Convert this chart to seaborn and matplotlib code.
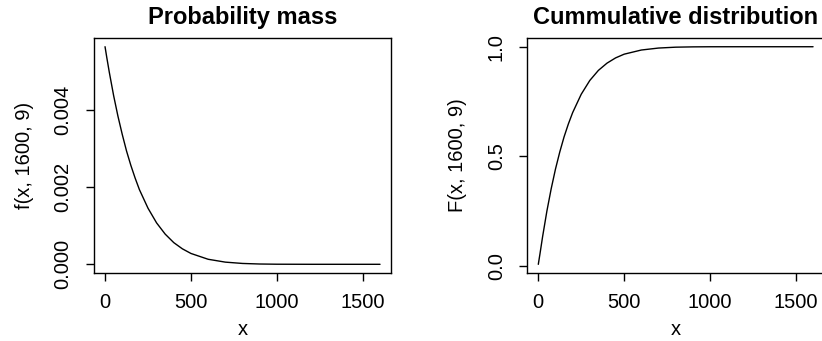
import matplotlib
matplotlib.use("Agg")
import matplotlib.pyplot as plt
import seaborn as sns
import pandas as pd

sns.set_style("ticks")
plt.rcParams['font.family'] = ['Liberation Sans', 'DejaVu Sans']
plt.rcParams['text.color'] = 'black'
plt.rcParams['axes.labelcolor'] = 'black'
plt.rcParams['axes.titlecolor'] = 'black'

# values
x_points = [0, 10, 25, 50, 75, 100, 125, 150, 175, 200, 250, 300, 350, 400,
            450, 500, 600, 700, 800, 900, 1000, 1200, 1400, 1600]
pmf_values = [0.005625, 0.00535, 0.00496, 0.00436, 0.00383, 0.00336, 0.00293,
              0.00256, 0.00223, 0.00193, 0.00145, 0.00107, 0.00078, 0.00056,
              0.00040, 0.00028, 0.00013, 0.000056, 0.000022, 0.0000075,
              0.0000022, 0.0000001, 0.0, 0.0]
cdf_values = [0.0056, 0.055, 0.132, 0.249, 0.351, 0.441, 0.519, 0.588, 0.647,
              0.699, 0.783, 0.846, 0.892, 0.925, 0.949, 0.966, 0.985, 0.994,
              0.998, 0.9994, 0.9999, 1.0, 1.0, 1.0]

df = pd.DataFrame({"x": x_points, "f": pmf_values, "F": cdf_values})

fig = plt.figure(figsize=(8.22, 3.41), dpi=100)
ax1 = fig.add_axes([0.1144, 0.1994, 0.3613, 0.6892])
ax2 = fig.add_axes([0.6415, 0.1994, 0.361, 0.6892])

panels = [
    (ax1, "f", "Probability mass", "f(x, 1600, 9)", (-0.000225, 0.00585),
     [0, 0.002, 0.004], ["0.000", "0.002", "0.004"]),
    (ax2, "F", "Cummulative distribution", "F(x, 1600, 9)", (-0.034, 1.04),
     [0, 0.5, 1.0], ["0.0", "0.5", "1.0"]),
]

for ax, col, title, ylab, ylim, yt, ytl in panels:
    sns.lineplot(data=df, x="x", y=col, ax=ax, color="black", linewidth=1)
    ax.set_xlim(-64, 1664)
    ax.set_ylim(*ylim)
    ax.set_xticks([0, 500, 1000, 1500])
    ax.set_yticks(yt)
    ax.set_yticklabels(ytl)
    for s in ax.spines.values():
        s.set_visible(True)
        s.set_linewidth(1)
        s.set_color("black")
    ax.tick_params(axis="both", direction="out", length=5.5, width=1,
                   labelsize=14.5, colors="black")
    ax.tick_params(axis="x", pad=9)
    ax.tick_params(axis="y", pad=10, labelrotation=90)
    for lab in ax.get_yticklabels():
        lab.set_va("center")
    ax.set_title(title, fontsize=17, fontweight="bold", pad=10, color="black")
    ax.set_xlabel("x", fontsize=14.5, labelpad=6)
    ax.set_ylabel(ylab, fontsize=14.5, labelpad=14)

fig.savefig("out.png", dpi=100)
